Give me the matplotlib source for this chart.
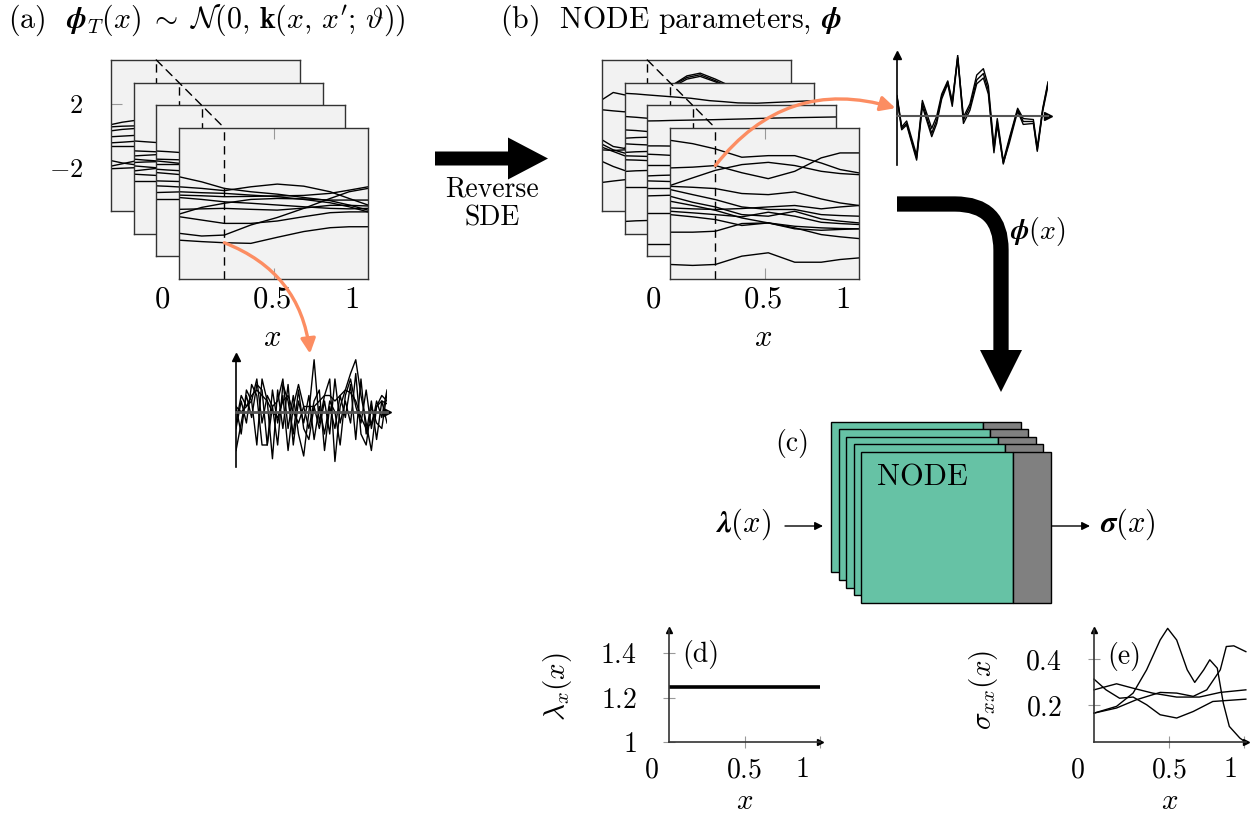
import numpy as np
import matplotlib
matplotlib.use('Agg')
import matplotlib.pyplot as plt
from matplotlib.patches import Rectangle, FancyArrow, Polygon, ConnectionPatch, PathPatch
from matplotlib.path import Path

plt.rcParams['font.family'] = 'cmr10'
plt.rcParams['mathtext.fontset'] = 'cm'
plt.rcParams['axes.formatter.use_mathtext'] = True

# ---------------- data ----------------
# grid of the front sample frames
frame_x = [0.0, 0.12, 0.24, 0.38, 0.52, 0.66, 0.8, 0.9, 1.0]
# grid of the frames behind (mostly hidden, only the left strip shows)
back_x = [0.0, 0.06, 0.12, 0.35, 0.45, 0.52, 0.6, 0.7, 1.0]
x_cut = 0.24  # the dashed slice

# (a) prior samples phi_T(x), front frame
prior_front = [
    [1.70, 1.38, 0.97, 0.76, 0.61, 0.40, 0.20, -0.07, -0.39],
    [1.07, 0.97, 0.83, 1.07, 1.24, 1.11, 0.76, 0.34, -0.07],
    [0.76, 0.70, 0.66, 0.55, 0.45, 0.28, 0.07, -0.18, -0.50],
    [0.55, 0.51, 0.45, 0.47, 0.50, 0.53, 0.66, 0.86, 1.07],
    [0.40, 0.28, 0.13, 0.04, -0.07, -0.18, -0.28, -0.31, -0.28],
    [-0.64, -0.22, 0.04, 0.28, 0.34, 0.31, 0.24, 0.24, 0.24],
    [-0.34, -0.31, -0.28, -0.34, -0.39, -0.26, -0.09, -0.09, -0.13],
    [-0.80, -1.01, -1.22, -1.22, -1.07, -0.80, -0.55, -0.50, -0.50],
    [-1.84, -2.01, -1.95, -1.32, -0.85, -0.28, 0.34, 0.76, 0.97],
    [-2.27, -2.36, -2.43, -2.47, -2.09, -1.73, -1.49, -1.43, -1.43],
]
prior_pick = 9  # sample followed by the orange arrow

# (a) frames behind, back to front
prior_back = [
    [[0.70, 0.85, 0.95, 1.00], [0.56, 0.60, 0.62, 0.64], [0.31, 0.40, 0.45, 0.48],
     [-0.06, -0.02, 0.02, 0.05], [-0.44, -0.40, -0.35, -0.30], [-0.62, -0.62, -0.62, -0.62],
     [-1.55, -1.70, -1.80, -1.85], [-1.90, -1.75, -1.60, -1.50], [-2.06, -2.03, -2.00, -1.98]],
    [[1.10, 1.05, 1.00, 0.95], [0.48, 0.45, 0.42, 0.40], [0.16, 0.20, 0.24, 0.26],
     [-0.04, -0.10, -0.15, -0.18], [-0.25, -0.22, -0.20, -0.18], [-0.46, -0.52, -0.58, -0.62],
     [-0.78, -0.70, -0.62, -0.58], [-0.98, -1.02, -1.06, -1.08], [-1.40, -1.40, -1.40, -1.40]],
    [[1.89, 1.85, 1.80, 1.76], [1.38, 1.36, 1.34, 1.32], [1.27, 1.20, 1.12, 1.08],
     [1.06, 1.06, 1.06, 1.06], [0.75, 0.70, 0.66, 0.64], [0.54, 0.48, 0.42, 0.38],
     [0.02, 0.00, -0.02, -0.03], [-0.29, -0.32, -0.36, -0.38], [-0.71, -0.69, -0.67, -0.66],
     [-1.13, -1.13, -1.13, -1.13]],
]

# (b) NODE parameter samples, front frame
param_front = [
    [3.98, 3.77, 3.44, 2.92, 3.02, 3.02, 2.56, 2.15, 1.94],
    [2.25, 2.30, 2.40, 1.95, 1.58, 2.04, 2.88, 3.19, 3.19],
    [1.15, 1.63, 2.10, 2.46, 2.60, 2.40, 2.04, 1.90, 1.83],
    [1.10, 1.04, 0.96, 0.65, 0.58, 0.75, 0.31, 0.06, -0.10],
    [0.90, 0.58, 0.27, -0.19, -0.35, -0.35, -0.67, -0.73, -0.77],
    [0.48, 0.10, -0.19, -0.67, -0.77, -0.46, -0.94, -1.08, -1.19],
    [0.17, -0.10, -0.40, -0.88, -1.19, -1.50, -1.92, -2.06, -2.17],
    [-0.25, -0.31, -0.35, -0.29, -0.19, -0.10, -0.31, -0.19, -0.10],
    [-0.46, -0.56, -0.67, -0.81, -0.52, -0.77, -1.15, -1.23, -1.29],
    [-0.67, -0.81, -0.98, -1.35, -1.19, -1.40, -1.50, -1.54, -1.56],
    [-1.77, -1.77, -1.71, -1.23, -1.19, -1.56, -1.65, -1.60, -1.56],
    [-3.79, -3.85, -3.79, -3.27, -3.06, -3.65, -3.65, -3.48, -3.38],
]
param_pick = 1

param_back = [
    [[2.25, 2.71, 2.56, 3.00, 3.75, 3.92, 3.55, 3.00, 2.50],
     [1.63, 1.56, 1.50, 3.00, 3.65, 3.82, 3.45, 2.90, 2.20],
     [-0.25, -0.67, -0.79, 2.90, 3.55, 3.72, 3.38, 2.80, 2.00],
     [-0.52, -0.88, -1.08, -1.10], [-0.71, -0.98, -1.25, -1.30], [-0.88, -0.92, -0.88, -0.88],
     [-1.60, -1.92, -2.17, -2.20], [-2.92, -2.83, -2.75, -2.70]],
    [[4.08, 4.04, 3.98, 3.77, 3.62, 3.56, 3.48, 3.46, 3.62],
     [2.63, 2.58, 2.52, 2.50], [1.79, 1.75, 1.69, 1.66], [1.27, 1.31, 1.33, 1.33],
     [0.92, 0.88, 0.85, 0.84], [0.38, 0.42, 0.44, 0.44], [0.17, 0.15, 0.13, 0.12],
     [-0.08, -0.10, -0.13, -0.14], [-0.81, -0.77, -0.75, -0.74], [-1.79, -1.79, -1.79, -1.79],
     [-3.94, -3.90, -3.88, -3.86]],
    [[3.77, 3.78, 3.80, 3.85, 3.88, 3.90, 3.93, 3.96, 4.02],
     [2.21, 2.21, 2.20, 2.20], [1.69, 1.66, 1.62, 1.60], [1.00, 1.00, 1.00, 1.00],
     [0.33, 0.36, 0.38, 0.40], [0.02, 0.00, -0.02, -0.03], [-0.40, -0.40, -0.40, -0.40],
     [-0.92, -0.90, -0.88, -0.86], [-1.96, -1.96, -1.96, -1.96], [-3.94, -3.94, -3.94, -3.94]],
]

# white-noise slices at x = x_cut (a) and the reversed parameters (b)
noise_a = [
    [-0.7, -0.2, 0.3, -0.1, 0.5, 0.4, -0.6, 0.1, 0.2, 0.6, -0.3, 0.3, -0.4, -0.8, 0.0,
     0.95, -0.2, 0.3, 0.6, -0.9, 0.1, 0.4, 0.7, 0.95, 0.3, -0.2, -0.7, 0.1, 0.3, 0.2],
    [0.1, -0.4, 0.4, 0.2, -0.6, 0.6, 0.2, -0.85, 0.4, -0.3, 0.5, -0.6, 0.2, -0.2, 0.3,
     -0.5, 0.1, -0.4, 0.2, 0.0, -0.6, 0.3, 0.6, 0.1, -0.2, 0.4, -0.3, 0.2, -0.1, 0.4],
    [-0.3, 0.2, -0.2, 0.5, 0.3, -0.6, -0.6, 0.4, -0.2, 0.3, -0.7, 0.1, 0.5, 0.1, -0.3,
     0.2, 0.4, -0.7, 0.1, -0.3, 0.3, -0.1, 0.5, -0.5, 0.6, -0.4, 0.2, -0.5, 0.2, -0.2],
    [0.1, 0.0, 0.1, 0.3, 0.4, 0.3, 0.2, 0.0, -0.1, 0.2, 0.3, 0.0, -0.2, 0.1, 0.1,
     0.1, 0.2, 0.3, 0.3, 0.2, 0.3, 0.4, 0.35, 0.2, -0.1, -0.3, -0.2, 0.1, 0.2, 0.15],
    [-0.2, 0.3, 0.1, 0.2, 0.6, -0.2, 0.3, 0.1, -0.6, 0.5, 0.2, -0.4, 0.4, -0.3, -0.5,
     0.1, -0.3, 0.2, -0.4, 0.6, -0.2, 0.2, -0.2, 0.7, -0.4, -0.6, 0.1, -0.2, -0.3, 0.35],
]
noise_b_x = [0.0, 0.031, 0.064, 0.13, 0.168, 0.23, 0.263, 0.296, 0.336, 0.366, 0.402, 0.44, 0.483,
             0.528, 0.572, 0.605, 0.642, 0.664, 0.704, 0.744, 0.799, 0.836, 0.903, 0.929, 0.965, 1.0]
noise_b = [
    [0.40, -0.25, -0.15, -0.86, 0.26, -0.35, -0.08, 0.40, 0.70, 0.26, 1.25, -0.08, 0.19,
     0.74, 0.87, 0.53, -0.69, -0.11, -0.98, -0.49, 0.13, -0.11, -0.11, -0.69, 0.13, 0.67],
    [0.42, -0.22, -0.10, -0.80, 0.32, -0.25, 0.00, 0.45, 0.72, 0.30, 1.20, -0.02, 0.25,
     0.84, 0.97, 0.62, -0.62, -0.05, -0.92, -0.45, 0.16, -0.05, -0.07, -0.64, 0.16, 0.70],
    [0.38, -0.28, -0.18, -0.90, 0.20, -0.42, -0.15, 0.35, 0.66, 0.20, 1.18, -0.15, 0.12,
     0.66, 0.78, 0.45, -0.75, -0.18, -0.96, -0.55, 0.10, -0.17, -0.15, -0.72, 0.10, 0.62],
]

# (d) input load lambda_x(x)
lam_x = [0.0, 1.0]
lam_val = [1.25, 1.25]

# (e) predicted stress sigma_xx(x)
sig_curves = [
    ([0, 0.15, 0.26, 0.35, 0.44, 0.49, 0.55, 0.62, 0.67, 0.73, 0.77, 0.82, 0.86, 0.90, 0.97, 1.0],
     [0.167, 0.196, 0.253, 0.353, 0.481, 0.531, 0.481, 0.353, 0.299, 0.353, 0.396, 0.36, 0.21, 0.11, 0.06, 0.046]),
    ([0, 0.15, 0.26, 0.39, 0.55, 0.70, 0.84, 1.01],
     [0.267, 0.293, 0.274, 0.253, 0.236, 0.236, 0.256, 0.267]),
    ([0, 0.08, 0.17, 0.26, 0.35, 0.44, 0.55, 0.66, 0.79, 1.01],
     [0.313, 0.267, 0.231, 0.236, 0.203, 0.16, 0.146, 0.174, 0.217, 0.227]),
    ([0, 0.15, 0.28, 0.44, 0.55, 0.66, 0.75, 0.84, 0.88, 0.93, 1.01],
     [0.167, 0.189, 0.224, 0.256, 0.253, 0.239, 0.267, 0.353, 0.453, 0.456, 0.431]),
]

frame_xticklabels = ['0', '0.5', '1']
frame_xtickpos = [-0.09, 0.49, 0.915]
small_xticklabels = ['0', '0.5', '1']

# ---------------- figure ----------------
W, H = 1252, 818
fig = plt.figure(figsize=(W / 100, H / 100), dpi=100)
ORANGE = '#fc8d62'
GREEN = '#66c2a5'


def rect(l, t, w, h):
    return [l / W, 1 - (t + h) / H, w / W, h / H]


def frame_stack(left, top, back, front, step=22.7, w=189, h=151):
    axs = []
    for k in range(4):
        off = (3 - k) * step
        ax = fig.add_axes(rect(left - off, top - off, w, h), zorder=k + 1)
        ax.set_facecolor('#f2f2f2')
        ax.set_xlim(0, 1)
        ax.set_ylim(-4.7, 4.75)
        ax.set_xticks([])
        ax.set_yticks([])
        for s in ax.spines.values():
            s.set_color('#333333')
            s.set_linewidth(1.0)
        curves = front if k == 3 else back[k]
        for c in curves:
            xs = frame_x if k == 3 else back_x[:len(c)]
            ax.plot(xs, c, color='k', lw=1.0)
        ax.axvline(x_cut, color='k', lw=1.0, dashes=(6, 4))
        axs.append(ax)
    fr = axs[3]
    fr.set_xticks([0.5])
    fr.tick_params(axis='x', direction='in', length=8, color='#999999', top=True,
                   labelbottom=False)
    for p, lab in zip(frame_xtickpos, frame_xticklabels):
        fr.text(p, -0.14, '$' + lab + '$', transform=fr.get_xaxis_transform(),
                ha='center', va='center', fontsize=22)
    fr.text(0.49, -0.39, '$x$', transform=fr.get_xaxis_transform(),
            ha='center', va='center', fontsize=22)
    con = ConnectionPatch(xyA=(x_cut, 4.75), coordsA=axs[0].transData,
                          xyB=(x_cut, 4.75), coordsB=fr.transData,
                          color='k', lw=1.0, linestyle=(0, (6, 4)), zorder=8)
    fig.add_artist(con)
    return axs


def arrow_axes(l, t, w, h, xlim, ylim):
    ax = fig.add_axes(rect(l, t, w, h), zorder=6)
    ax.set_xlim(xlim)
    ax.set_ylim(ylim)
    ax.patch.set_visible(False)
    ax.spines['top'].set_visible(False)
    ax.spines['right'].set_visible(False)
    return ax


stack_a = frame_stack(179, 128, prior_back, prior_front)
stack_b = frame_stack(670, 128, param_back, param_front)

# y ticks of the rearmost (a) frame
stack_a[0].set_yticks([2, -2])
stack_a[0].set_yticklabels(['$2$', '$-2$'])
stack_a[0].tick_params(axis='y', direction='in', length=8, color='#999999',
                       labelsize=19, pad=20)

# noise slice (a)
na = arrow_axes(236, 357, 151, 110, (0, 1), (-1, 1))
for s in noise_a:
    na.plot(np.linspace(0, 1, len(s)), s, color='k', lw=1.0, zorder=2)
na.spines['bottom'].set_position(('data', 0))
na.spines['bottom'].set_color('#555555')
na.spines['bottom'].set_linewidth(2.0)
na.spines['bottom'].set_zorder(3)
na.spines['left'].set_linewidth(1.2)
na.set_xticks([])
na.set_yticks([])
na.plot(0, 1, '^', color='k', ms=6, transform=na.transAxes, clip_on=False)
na.plot(1, 0, '>', color='k', ms=6, transform=na.get_yaxis_transform(), clip_on=False)

# noise slice (b)
nb = arrow_axes(897, 55, 151, 110, (0, 1), (-1, 1.25))
for s in noise_b:
    nb.plot(noise_b_x, s, color='k', lw=1.0, zorder=2)
nb.spines['bottom'].set_position(('data', 0))
nb.spines['bottom'].set_color('#555555')
nb.spines['bottom'].set_linewidth(1.5)
nb.spines['left'].set_linewidth(1.2)
nb.set_xticks([])
nb.set_yticks([])
nb.plot(0, 1, '^', color='k', ms=6, transform=nb.transAxes, clip_on=False)
nb.plot(1, 0, '>', color='k', ms=6, transform=nb.get_yaxis_transform(), clip_on=False)

# orange arrows from the slice to the noise plots
arr_a = ConnectionPatch(xyA=(x_cut, prior_front[prior_pick][2]), coordsA=stack_a[3].transData,
                        xyB=(0.49, 1.03), coordsB=na.transAxes, arrowstyle='-|>',
                        connectionstyle='arc3,rad=-0.3', color=ORANGE, lw=2.4,
                        mutation_scale=22, zorder=9)
fig.add_artist(arr_a)
arr_b = ConnectionPatch(xyA=(x_cut, param_front[param_pick][2]), coordsA=stack_b[3].transData,
                        xyB=(-0.01, 0.517), coordsB=nb.transAxes, arrowstyle='-|>',
                        connectionstyle='arc3,rad=-0.34', color=ORANGE, lw=2.4,
                        mutation_scale=22, zorder=9)
fig.add_artist(arr_b)


def small_plot(l, t, w, h, xlim, ylim, yticks, ylabels, xticks, xlabpos):
    ax = arrow_axes(l, t, w, h, xlim, ylim)
    for s in ['left', 'bottom']:
        ax.spines[s].set_color('#333333')
        ax.spines[s].set_linewidth(1.2)
    ax.set_yticks(yticks)
    ax.set_yticklabels(['$' + s + '$' for s in ylabels])
    ax.set_xticks(xticks)
    ax.tick_params(direction='inout', length=8, color='#999999', width=0.8,
                   labelsize=20, pad=19, labelbottom=False)
    for p, lab in zip(xlabpos, small_xticklabels):
        ax.text(p, -0.25, '$' + lab + '$', transform=ax.get_xaxis_transform(),
                ha='center', va='center', fontsize=20)
    ax.text(0.5, -0.53, '$x$', transform=ax.get_xaxis_transform(),
            ha='center', va='center', fontsize=21)
    ax.plot(1, 0, '>', color='k', ms=5, transform=ax.transAxes, clip_on=False)
    ax.plot(0, 1, '^', color='k', ms=5, transform=ax.transAxes, clip_on=False)
    return ax


ad = small_plot(669, 630, 151, 112, (0, 1.0), (1, 1.505), [1, 1.2, 1.4], ['1', '1.2', '1.4'],
                [0.5, 1.0], [-0.115, 0.5, 0.88])
ad.plot(lam_x, lam_val, color='k', lw=2.6, solid_capstyle='butt')
ad.text(0.09, 0.78, '(d)', transform=ad.transAxes, fontsize=20, va='center')

ae = small_plot(1094, 630, 152, 112, (0, 1.011), (0.043, 0.524), [0.2, 0.4], ['0.2', '0.4'],
                [0.5, 1.0], [-0.11, 0.5, 0.905])
for xs, ys in sig_curves:
    ae.plot(xs, ys, color='k', lw=1.0, clip_on=False)
ae.text(0.085, 0.76, '(e)', transform=ae.transAxes, fontsize=20, va='center')

# ---------------- overlay for the diagram parts ----------------
ov = fig.add_axes([0, 0, 1, 1], zorder=10)
ov.set_xlim(0, W)
ov.set_ylim(H, 0)
ov.axis('off')
ov.patch.set_visible(False)

ov.text(8, 20, r'(a)  $\mathbfit{\phi}_T(x)\;\sim\;\mathcal{N}(\mathbf{0},\,\mathbf{k}(x,\,x^{\prime};\,\vartheta))$',
        fontsize=21.5, va='center', ha='left')
ov.text(500, 20, r'(b)  NODE parameters, $\mathbfit{\phi}$', fontsize=21.5, va='center', ha='left')

# reverse SDE arrow
ov.add_patch(FancyArrow(435, 158.5, 113, 0, width=14, head_width=42, head_length=40,
                        length_includes_head=True, color='k', lw=0))
ov.text(492, 189, 'Reverse', fontsize=20, ha='center', va='center')
ov.text(492, 218, 'SDE', fontsize=20, ha='center', va='center')

# bent arrow down to the NODE
bend = Path([(897, 204), (955, 204), (1001, 204), (1001, 250), (1001, 352)],
            [Path.MOVETO, Path.LINETO, Path.CURVE3, Path.CURVE3, Path.LINETO])
ov.add_patch(PathPatch(bend, facecolor='none', edgecolor='k', lw=11, capstyle='butt'))
ov.add_patch(Polygon([(980, 350), (1022, 350), (1001, 392)], closed=True, color='k', lw=0))
ov.text(1010, 231, r'$\mathbfit{\phi}(x)$', fontsize=20, ha='left', va='center')

# stacked NODE blocks
for k in range(5):
    off = (4 - k) * 7.6
    ov.add_patch(Rectangle((861.3 - off, 452 - off), 151.7, 150.7, facecolor=GREEN,
                           edgecolor='k', lw=1.0))
    ov.add_patch(Rectangle((1013 - off, 452 - off), 38, 150.7, facecolor='#808080',
                           edgecolor='k', lw=1.0))
ov.text(922, 478, 'NODE', fontsize=22, ha='center', va='center')
ov.text(792, 443, '(c)', fontsize=20, ha='center', va='center')
ov.text(743, 524, r'$\mathbfit{\lambda}(x)$', fontsize=22, ha='center', va='center')
ov.text(1128, 524, r'$\mathbfit{\sigma}(x)$', fontsize=22, ha='center', va='center')
for x0, x1 in [(785, 823), (1052, 1090)]:
    ov.annotate('', xy=(x1, 526), xytext=(x0, 526),
                arrowprops=dict(arrowstyle='-|>', lw=1.0, color='k', mutation_scale=12,
                                shrinkA=0, shrinkB=0))

ov.text(557, 687, r'$\lambda_x(x)$', fontsize=21, rotation=90, ha='center', va='center')
ov.text(983, 690, r'$\sigma_{xx}(x)$', fontsize=21, rotation=90, ha='center', va='center')

fig.savefig('out.png', dpi=100)
